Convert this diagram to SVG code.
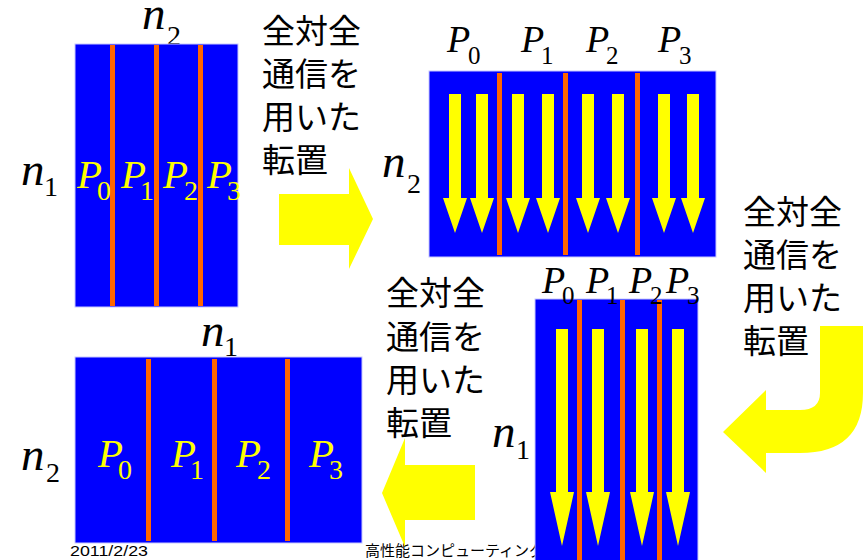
<svg xmlns="http://www.w3.org/2000/svg" width="865" height="560" viewBox="0 0 865 560">
<style>
.blk{fill:#0000FF;stroke:#C8C8FF;stroke-width:1}
.sep{fill:#FF6600}
.ya{fill:#FFFF00}
.n{font-family:"Liberation Serif",serif;font-style:italic;font-size:47px;fill:#000}
.ns{font-family:"Liberation Serif",serif;font-size:28px;fill:#000}
.v{font-family:"Liberation Serif",serif;font-style:italic;font-size:38px;fill:#000}
.s{font-family:"Liberation Serif",serif;font-size:25px;fill:#000}
.vy{font-family:"Liberation Serif",serif;font-style:italic;font-size:41px;fill:#FFFF00}
.sy{font-family:"Liberation Serif",serif;font-size:28px;fill:#FFFF00}
.jp{font-family:"Noto Sans CJK JP",sans-serif;font-size:33px;fill:#000}
.ft{font-family:"Liberation Sans","Noto Sans CJK JP",sans-serif;font-size:15px;fill:#000}
</style>
<defs>
<path id="da" d="M-6,0 H6 V104 H12 L0,139 L-12,104 H-6 Z"/>
<path id="db" d="M-6,0 H6 V163 H12 L0,217 L-12,163 H-6 Z"/>
</defs>

<g id="footer">
<text class="ft" x="70" y="556" textLength="78" lengthAdjust="spacingAndGlyphs">2011/2/23</text>
<text class="ft" x="365" y="556" font-size="15.5">高性能コンピューティング</text>
</g>

<g id="block1">
<text class="n" x="142" y="29">n</text><text class="ns" x="167" y="45">2</text>
<rect class="blk" x="75" y="44" width="163" height="263"/>
<rect class="sep" x="110" y="45" width="5" height="261"/>
<rect class="sep" x="154" y="45" width="5" height="261"/>
<rect class="sep" x="198" y="45" width="5" height="261"/>
<text class="n" x="21" y="185">n</text><text class="ns" x="44" y="196">1</text>
<text class="vy" x="77" y="188">P</text><text class="sy" x="97" y="200">0</text>
<text class="vy" x="121" y="188">P</text><text class="sy" x="140" y="200">1</text>
<text class="vy" x="163" y="188">P</text><text class="sy" x="184" y="200">2</text>
<text class="vy" x="207" y="188">P</text><text class="sy" x="227" y="200">3</text>
</g>

<g id="block2">
<text class="v" x="447" y="52">P</text><text class="s" x="468" y="64">0</text>
<text class="v" x="521" y="52">P</text><text class="s" x="541" y="64">1</text>
<text class="v" x="586" y="52">P</text><text class="s" x="606" y="64">2</text>
<text class="v" x="658" y="52">P</text><text class="s" x="679" y="64">3</text>
<text class="n" x="382" y="177">n</text><text class="ns" x="407" y="193">2</text>
<rect class="blk" x="429" y="71" width="287" height="186"/>
<g class="ya" transform="translate(0,94)">
<use href="#da" x="455"/><use href="#da" x="482"/>
<use href="#da" x="518"/><use href="#da" x="548"/>
<use href="#da" x="588"/><use href="#da" x="618"/>
<use href="#da" x="664"/><use href="#da" x="693"/>
</g>
<rect class="sep" x="497" y="73" width="5" height="182"/>
<rect class="sep" x="563" y="73" width="5" height="182"/>
<rect class="sep" x="635" y="73" width="5" height="182"/>
</g>

<g id="block3">
<text class="n" x="201" y="346">n</text><text class="ns" x="224" y="356">1</text>
<rect class="blk" x="75" y="357" width="287" height="186"/>
<rect class="sep" x="146" y="359" width="5" height="182"/>
<rect class="sep" x="212" y="359" width="5" height="182"/>
<rect class="sep" x="285" y="359" width="5" height="182"/>
<text class="n" x="21" y="470">n</text><text class="ns" x="46" y="482">2</text>
<text class="vy" x="98" y="467">P</text><text class="sy" x="118" y="479">0</text>
<text class="vy" x="171" y="467">P</text><text class="sy" x="190" y="479">1</text>
<text class="vy" x="236" y="467">P</text><text class="sy" x="257" y="479">2</text>
<text class="vy" x="309" y="467">P</text><text class="sy" x="329" y="479">3</text>
</g>

<g id="block4">
<rect class="blk" x="535" y="299" width="163" height="265"/>
<g class="ya" transform="translate(0,329)">
<use href="#db" x="562"/><use href="#db" x="598"/>
<use href="#db" x="642"/><use href="#db" x="678"/>
</g>
<rect class="sep" x="577" y="300" width="5" height="262"/>
<rect class="sep" x="620" y="300" width="5" height="262"/>
<rect class="sep" x="657" y="300" width="5" height="262"/>
<text class="v" x="542" y="293">P</text><text class="s" x="562" y="304">0</text>
<text class="v" x="586" y="293">P</text><text class="s" x="606" y="304">1</text>
<text class="v" x="629" y="293">P</text><text class="s" x="650" y="304">2</text>
<text class="v" x="666" y="293">P</text><text class="s" x="687" y="304">3</text>
<text class="n" x="492" y="447">n</text><text class="ns" x="516" y="459">1</text>
</g>

<g id="labels">
<text class="jp"><tspan x="262" y="43">全対全</tspan><tspan x="262" y="86">通信を</tspan><tspan x="262" y="129">用いた</tspan><tspan x="262" y="172">転置</tspan></text>
<text class="jp"><tspan x="743" y="224">全対全</tspan><tspan x="743" y="267">通信を</tspan><tspan x="743" y="310">用いた</tspan><tspan x="743" y="353">転置</tspan></text>
<text class="jp"><tspan x="386" y="305">全対全</tspan><tspan x="386" y="349">通信を</tspan><tspan x="386" y="392">用いた</tspan><tspan x="386" y="435">転置</tspan></text>
</g>

<g id="connectors" class="ya">
<path d="M279,194 H349 V168 L373,219 L349,269 V245 H279 Z"/>
<path d="M820,326 H863 V393 Q863,453 800,453 H766 V473 L723,432 L766,390 V410 H800 Q820,410 820,393 Z"/>
<path d="M475,465 V520 H405 V547 L382,493 L405,438 V465 Z"/>
</g>
</svg>
